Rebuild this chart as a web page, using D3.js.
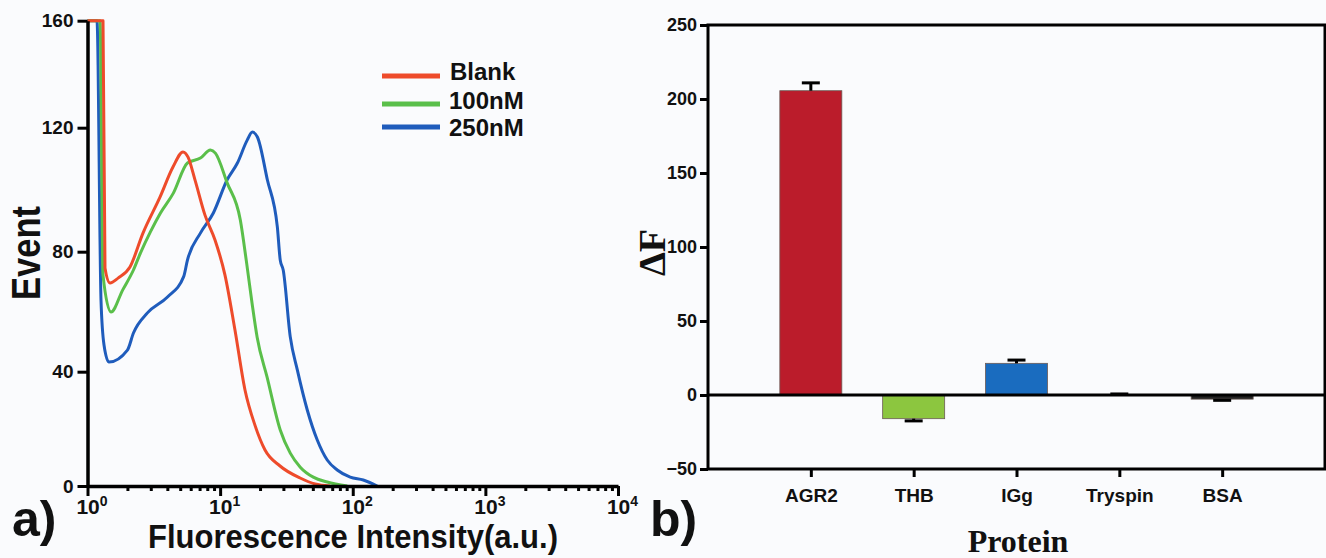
<!DOCTYPE html>
<html>
<head>
    <meta charset="utf-8">
    <title>Flow cytometry and selectivity</title>
    <script src="https://d3js.org/d3.v7.min.js"></script>
    <style>
        body { margin: 0; background: #fafbfd; }
        svg { display: block; }
        .sans { font-family: "Liberation Sans", Arial, sans-serif; font-weight: bold; }
        .serif { font-family: "Liberation Serif", "Times New Roman", serif; font-weight: bold; }
    </style>
</head>
<body>
    <div id="chart"></div>
    <script>
	// panel a) flow cytometry histograms
	const seriesNames = ['Blank', '100nM', '250nM'];
	const seriesColors = ['#ee4b2b', '#5abf4a', '#1f5cbc'];
	const blankX = [1, 1.309, 1.355, 1.479, 1.70, 2.09, 2.62, 3.52, 4.41, 5.25, 5.73, 6.47, 7.69, 9.15, 10.88, 12.94, 15.4, 18.3, 21.8, 28.3, 40.1, 52.0, 67.4];
	const blankY = [160, 160, 74.6, 69.6, 71.2, 74.9, 86.0, 97.6, 107.3, 112.2, 110.5, 103.1, 91.8, 83.8, 72.2, 53.9, 33.6, 21.3, 12.6, 7.0, 2.8, 0.7, 0];
	const nm100X = [1, 1.243, 1.309, 1.504, 1.84, 2.22, 2.51, 2.98, 3.55, 4.44, 5.67, 7.10, 8.45, 9.21, 11.3, 14.2, 15.8, 17.4, 19.0, 22.6, 28.4, 33.8, 40.2, 50.4, 64.2, 90.9];
	const nm100Y = [160, 160, 72.2, 59.9, 67.2, 73.9, 79.6, 86.4, 92.5, 98.9, 108.6, 110.2, 112.8, 111.8, 102.2, 90.2, 76.6, 62.9, 51.6, 38.1, 19.6, 11.5, 6.6, 3.1, 1.4, 0];
	const nm250X = [1, 1.179, 1.264, 1.332, 1.452, 2.0, 2.22, 2.83, 4.01, 5.31, 5.67, 7.10, 8.89, 11.3, 13.5, 16.0, 17.5, 19.1, 22.7, 27.0, 28.4, 29.9, 33.8, 38.2, 45.4, 54.0, 64.2, 76.4, 95.7, 120, 153];
	const nm250Y = [160, 160, 63.9, 48.9, 43.2, 47.2, 52.9, 59.6, 64.9, 71.7, 77.2, 86.0, 92.5, 103.2, 108.6, 116.0, 118.6, 117.0, 103.2, 88.0, 77.2, 73.9, 51.6, 40.6, 26.6, 16.1, 9.1, 5.6, 3.1, 2.1, 0];
	const eventTicks = [0, 40, 80, 120, 160];
	const decadeTicks = [1, 10, 100, 1000, 10000];

	// panel b) selectivity bars
	const proteins = ['AGR2', 'THB', 'IGg', 'Tryspin', 'BSA'];
	const deltaF = [205.6, -16, 21.4, 0.4, -2.8];
	const deltaFErr = [5.3, 1.5, 2.2, 0.3, 0.8];
	const barColors = ['#bb1c2b', '#8cc63f', '#1a6cbf', '#7a7a9a', '#222222'];
	const deltaTicks = [-50, 0, 50, 100, 150, 200, 250];

	const W = 1326, H = 558;
	const svg = d3.select("#chart").append("svg")
	    .attr("width", W)
	    .attr("height", H);

	// ---------- panel a ----------
	const xa = d3.scaleLog().domain([1, 1e4]).range([87.5, 618]);
	// the printed axis is slightly uneven, so follow its tick positions
	const ya = d3.scaleLinear().domain(eventTicks).range([486, 371.7, 251.7, 127.7, 20.7]);

	const pa = svg.append("g");

	const seriesX = [blankX, nm100X, nm250X];
	const seriesY = [blankY, nm100Y, nm250Y];
	const line = d3.line()
	    .x(d => xa(d[0]))
	    .y(d => ya(d[1]))
	    .curve(d3.curveMonotoneX);

	// draw blue first so the red drop sits on top like the original
	[2, 1, 0].forEach(i => {
	    pa.append("path")
	        .datum(d3.zip(seriesX[i], seriesY[i]))
	        .attr("fill", "none")
	        .attr("stroke", seriesColors[i])
	        .attr("stroke-width", 3)
	        .attr("stroke-linejoin", "round")
	        .attr("d", line);
	});

	const minorTicks = [];
	decadeTicks.slice(0, -1).forEach(d => {
	    for (let k = 2; k < 10; k++) minorTicks.push(d * k);
	});

	pa.append("g")
	    .attr("transform", `translate(0,${ya(0)})`)
	    .call(d3.axisBottom(xa).tickValues(minorTicks).tickSize(5).tickSizeOuter(0).tickFormat(""))
	    .call(g => g.select(".domain").remove())
	    .call(g => g.selectAll("line").attr("stroke", "#000").attr("stroke-width", 3));

	const xAxisA = pa.append("g")
	    .attr("transform", `translate(0,${ya(0)})`)
	    .call(d3.axisBottom(xa).tickValues(decadeTicks).tickSize(10).tickSizeOuter(0).tickFormat(""));
	xAxisA.select(".domain").attr("stroke-width", 3.5);
	xAxisA.selectAll("line").attr("stroke-width", 3);
	xAxisA.selectAll(".tick").append("text")
	    .attr("class", "sans")
	    .attr("fill", "#111")
	    .attr("y", 28)
	    .attr("x", 4)
	    .attr("text-anchor", "middle")
	    .style("font-size", "21px")
	    .each(function(d) {
	        const t = d3.select(this);
	        t.append("tspan").text("10");
	        t.append("tspan").attr("dy", -8).style("font-size", "14px").text(Math.round(Math.log10(d)));
	    });

	const yAxisA = pa.append("g")
	    .attr("transform", `translate(${xa(1)},0)`)
	    .call(d3.axisLeft(ya).tickValues(eventTicks).tickSize(10).tickSizeOuter(0).tickPadding(4));
	yAxisA.select(".domain").attr("stroke-width", 3.5);
	yAxisA.selectAll("line").attr("stroke-width", 3);
	yAxisA.selectAll("text")
	    .attr("class", "sans")
	    .attr("fill", "#111")
	    .style("font-size", "19px");

	pa.append("text")
	    .attr("class", "sans")
	    .attr("transform", "translate(40,300) rotate(-90)")
	    .attr("textLength", 94)
	    .attr("lengthAdjust", "spacingAndGlyphs")
	    .style("font-size", "40px")
	    .attr("fill", "#111")
	    .text("Event");

	pa.append("text")
	    .attr("class", "sans")
	    .attr("x", 148).attr("y", 548)
	    .attr("textLength", 410)
	    .attr("lengthAdjust", "spacingAndGlyphs")
	    .style("font-size", "33px")
	    .attr("fill", "#111")
	    .text("Fluorescence Intensity(a.u.)");

	const legendLineY = [76, 104, 127];
	const legendTextY = [80, 109, 136];
	seriesNames.forEach((name, i) => {
	    pa.append("line")
	        .attr("x1", 382).attr("x2", 440)
	        .attr("y1", legendLineY[i]).attr("y2", legendLineY[i])
	        .attr("stroke", seriesColors[i])
	        .attr("stroke-width", 5);
	    pa.append("text")
	        .attr("class", "sans")
	        .attr("x", i === 0 ? 450 : 449).attr("y", legendTextY[i])
	        .style("font-size", "24px")
	        .attr("fill", "#111")
	        .text(name);
	});

	svg.append("text")
	    .attr("class", "sans")
	    .attr("x", 12).attr("y", 536)
	    .style("font-size", "50px")
	    .attr("fill", "#111")
	    .text("a)");

	// ---------- panel b ----------
	const xb = d3.scalePoint().domain(proteins).range([708, 1325]).padding(1);
	const yb = d3.scaleLinear().domain([-50, 250]).range([469, 25]);
	const barW = 62;

	const pb = svg.append("g");

	pb.selectAll("rect.bar")
	    .data(proteins)
	    .enter().append("rect")
	    .attr("class", "bar")
	    .attr("x", d => xb(d) - barW / 2)
	    .attr("y", (d, i) => yb(Math.max(0, deltaF[i])))
	    .attr("width", barW)
	    .attr("height", (d, i) => Math.abs(yb(deltaF[i]) - yb(0)))
	    .attr("fill", (d, i) => barColors[i])
	    .attr("stroke", "#6b5a55")
	    .attr("stroke-width", 0.8);

	// error bars point away from zero
	proteins.forEach((p, i) => {
	    const sign = deltaF[i] >= 0 ? 1 : -1;
	    const y0 = yb(deltaF[i]);
	    const y1 = yb(deltaF[i] + sign * deltaFErr[i]);
	    pb.append("line")
	        .attr("x1", xb(p)).attr("x2", xb(p))
	        .attr("y1", y0).attr("y2", y1)
	        .attr("stroke", "#000").attr("stroke-width", 3);
	    pb.append("line")
	        .attr("x1", xb(p) - 9).attr("x2", xb(p) + 9)
	        .attr("y1", y1).attr("y2", y1)
	        .attr("stroke", "#000").attr("stroke-width", 3);
	});

	pb.append("line")
	    .attr("x1", 708).attr("x2", 1325)
	    .attr("y1", yb(0)).attr("y2", yb(0))
	    .attr("stroke", "#000").attr("stroke-width", 3);

	pb.append("rect")
	    .attr("x", 708).attr("y", yb(250))
	    .attr("width", 1325 - 708).attr("height", yb(-50) - yb(250))
	    .attr("fill", "none")
	    .attr("stroke", "#000").attr("stroke-width", 3);

	const yAxisB = pb.append("g")
	    .attr("transform", "translate(708,0)")
	    .call(d3.axisLeft(yb).tickValues(deltaTicks).tickSize(8).tickSizeOuter(0).tickPadding(3));
	yAxisB.select(".domain").remove();
	yAxisB.selectAll("line").attr("stroke-width", 3);
	yAxisB.selectAll("text")
	    .attr("class", "sans")
	    .attr("fill", "#111")
	    .style("font-size", "18px");

	const xAxisB = pb.append("g")
	    .attr("transform", `translate(0,${yb(-50)})`)
	    .call(d3.axisBottom(xb).tickSize(8).tickSizeOuter(0).tickPadding(12));
	xAxisB.select(".domain").remove();
	xAxisB.selectAll("line").attr("stroke-width", 3);
	xAxisB.selectAll("text")
	    .attr("class", "sans")
	    .attr("fill", "#111")
	    .style("font-size", "19px");

	pb.append("text")
	    .attr("class", "serif")
	    .attr("transform", "translate(665,276) rotate(-90)")
	    .style("font-size", "38px")
	    .attr("fill", "#111")
	    .text("\u0394F");

	pb.append("text")
	    .attr("class", "serif")
	    .attr("x", 1018).attr("y", 552)
	    .attr("text-anchor", "middle")
	    .style("font-size", "32px")
	    .attr("fill", "#111")
	    .text("Protein");

	svg.append("text")
	    .attr("class", "sans")
	    .attr("x", 650).attr("y", 536)
	    .style("font-size", "50px")
	    .attr("fill", "#111")
	    .text("b)");
	</script>
</body>
</html>
